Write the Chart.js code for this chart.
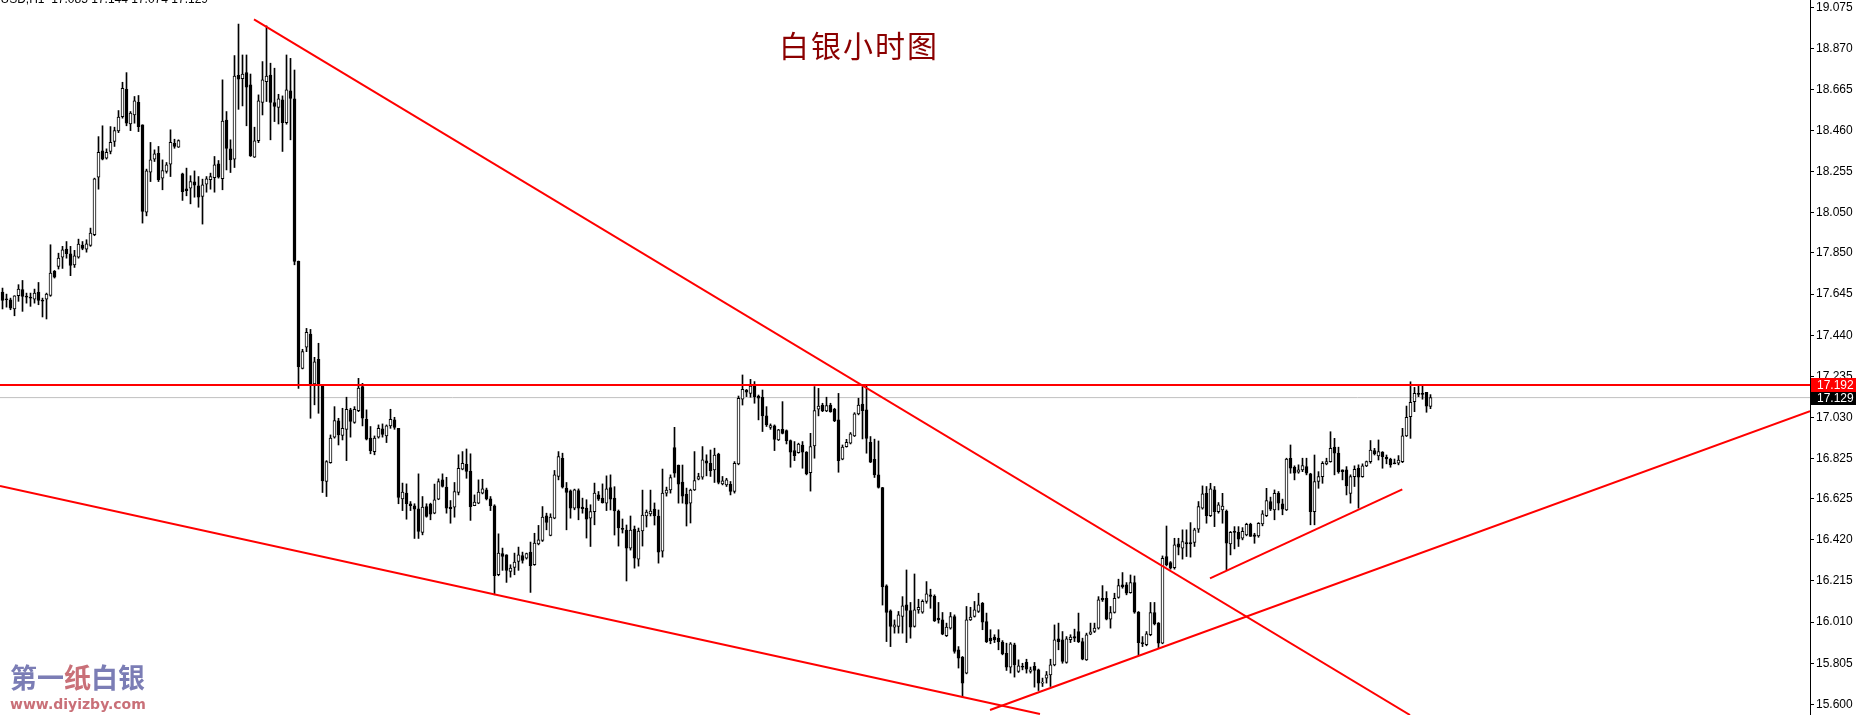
<!DOCTYPE html>
<html>
<head>
<meta charset="utf-8">
<script src="https://cdn.jsdelivr.net/npm/chart.js@4.4.1/dist/chart.umd.min.js"></script>
<style>
html, body { margin: 0; padding: 0; background: #fff; }
#wrap { position: relative; width: 1856px; height: 715px; overflow: hidden; }
#wrap canvas { position: absolute; left: 0; top: 0; width: 1856px; height: 715px; }
.txt { position: absolute; white-space: pre; }
#hdr { right: 1648px; top: -7px; font: 12px/12px "Liberation Sans", sans-serif; color: #000; }
#title { left: 779px; top: 29px; font: 30px/30px "Noto Sans CJK SC", sans-serif; color: #8b0000; letter-spacing: 2px; }
#logo { left: 10px; top: 663px; font: bold 27px/27px "Noto Sans CJK SC", sans-serif; color: #7b7db5; }
#logo .r { color: #c97078; }
#url { left: 10px; top: 697px; font: bold 14px/14px "DejaVu Sans", sans-serif; color: #c97078; }
</style>
</head>
<body>
<div id="wrap">
  <canvas id="chart" width="1856" height="715"></canvas>
  <div class="txt" id="hdr">XAGUSD,H1  17.085 17.144 17.074 17.129</div>
  <div class="txt" id="title">白银小时图</div>
  <div class="txt" id="logo">第一<span class="r">纸</span>白银</div>
  <div class="txt" id="url">www.diyizby.com</div>
</div>
<script>
// XAGUSD H1 candles, oldest first
const open = [
  17.655, 17.620, 17.617, 17.571, 17.637, 17.667, 17.633, 17.628, 17.620, 17.655,
  17.614, 17.620, 17.639, 17.758, 17.783, 17.829, 17.869, 17.846, 17.791, 17.829,
  17.889, 17.869, 17.888, 17.941, 18.228, 18.359, 18.322, 18.356, 18.406, 18.459,
  18.530, 18.666, 18.493, 18.538, 18.601, 18.489, 18.054, 18.253, 18.318, 18.347,
  18.223, 18.256, 18.293, 18.397, 18.377, 18.244, 18.170, 18.173, 18.205, 18.185,
  18.132, 18.193, 18.215, 18.226, 18.294, 18.221, 18.513, 18.369, 18.318, 18.736,
  18.719, 18.749, 18.688, 18.327, 18.410, 18.601, 18.704, 18.737, 18.600, 18.576,
  18.613, 18.500, 18.658, 18.618, 17.808, 17.275, 17.380, 17.446, 17.197, 17.320,
  17.187, 16.711, 16.805, 16.932, 17.013, 16.940, 16.971, 17.068, 17.006, 17.064,
  17.184, 17.021, 16.927, 16.860, 16.932, 16.973, 16.938, 16.988, 17.018, 16.976,
  16.624, 16.653, 16.600, 16.590, 16.575, 16.457, 16.586, 16.598, 16.553, 16.623,
  16.719, 16.683, 16.583, 16.583, 16.656, 16.772, 16.797, 16.761, 16.591, 16.603,
  16.653, 16.669, 16.624, 16.590, 16.246, 16.351, 16.346, 16.263, 16.283, 16.312,
  16.342, 16.329, 16.359, 16.296, 16.400, 16.417, 16.540, 16.442, 16.528, 16.736,
  16.827, 16.678, 16.664, 16.578, 16.666, 16.583, 16.578, 16.528, 16.561, 16.644,
  16.628, 16.603, 16.681, 16.628, 16.564, 16.475, 16.469, 16.379, 16.474, 16.324,
  16.464, 16.539, 16.549, 16.574, 16.539, 16.364, 16.653, 16.669, 16.880, 16.793,
  16.708, 16.648, 16.603, 16.669, 16.722, 16.732, 16.814, 16.802, 16.769, 16.848,
  16.699, 16.694, 16.697, 16.661, 16.799, 17.121, 17.167, 17.150, 17.192, 17.137,
  17.131, 17.038, 16.981, 16.988, 16.918, 16.971, 16.965, 16.915, 16.865, 16.855,
  16.893, 16.857, 16.755, 16.888, 17.071, 17.092, 17.063, 17.092, 17.071, 17.018,
  16.822, 16.885, 16.902, 16.938, 17.048, 17.097, 17.068, 16.906, 16.822, 16.744,
  16.680, 16.191, 16.066, 15.985, 15.988, 16.038, 16.096, 16.068, 15.988, 16.071,
  16.059, 16.113, 16.146, 16.138, 16.030, 16.021, 15.943, 15.980, 16.038, 15.872,
  15.835, 15.756, 16.021, 16.038, 16.063, 16.104, 16.013, 15.930, 15.935, 15.930,
  15.910, 15.855, 15.786, 15.897, 15.764, 15.787, 15.809, 15.764, 15.789, 15.772,
  15.706, 15.731, 15.747, 15.797, 15.927, 15.922, 15.809, 15.922, 15.938, 15.963,
  15.913, 15.822, 15.950, 15.963, 15.980, 16.129, 16.129, 16.025, 16.058, 16.133,
  16.196, 16.196, 16.157, 16.207, 16.059, 15.908, 15.897, 15.947, 16.058, 16.005,
  15.905, 16.337, 16.307, 16.282, 16.400, 16.378, 16.407, 16.407, 16.407, 16.473,
  16.578, 16.652, 16.541, 16.669, 16.561, 16.569, 16.564, 16.400, 16.462, 16.457,
  16.428, 16.445, 16.498, 16.445, 16.440, 16.500, 16.541, 16.611, 16.569, 16.652,
  16.599, 16.569, 16.827, 16.782, 16.757, 16.769, 16.785, 16.749, 16.561, 16.711,
  16.735, 16.799, 16.810, 16.882, 16.852, 16.769, 16.769, 16.652, 16.735, 16.777,
  16.735, 16.789, 16.810, 16.865, 16.838, 16.857, 16.832, 16.822, 16.802, 16.802,
  16.810, 16.938, 17.034, 17.109, 17.150, 17.150, 17.155, 17.085
];
const high = [
  17.675, 17.645, 17.625, 17.637, 17.692, 17.713, 17.650, 17.650, 17.670, 17.703,
  17.625, 17.650, 17.891, 17.763, 17.849, 17.883, 17.907, 17.883, 17.863, 17.919,
  17.907, 17.916, 17.974, 18.223, 18.430, 18.484, 18.369, 18.480, 18.477, 18.560,
  18.701, 18.749, 18.555, 18.630, 18.635, 18.489, 18.268, 18.401, 18.364, 18.381,
  18.314, 18.301, 18.464, 18.417, 18.414, 18.248, 18.273, 18.235, 18.259, 18.231,
  18.218, 18.231, 18.248, 18.331, 18.311, 18.713, 18.555, 18.414, 18.834, 18.991,
  18.837, 18.837, 18.742, 18.477, 18.638, 18.804, 18.982, 18.796, 18.771, 18.641,
  18.633, 18.837, 18.820, 18.762, 17.810, 17.370, 17.474, 17.469, 17.330, 17.400,
  17.192, 16.815, 16.943, 17.084, 17.026, 17.076, 17.131, 17.076, 17.084, 17.225,
  17.200, 17.068, 16.985, 16.938, 16.993, 16.998, 16.993, 17.071, 17.031, 16.976,
  16.703, 16.699, 16.611, 16.600, 16.749, 16.636, 16.600, 16.603, 16.698, 16.724,
  16.749, 16.732, 16.616, 16.706, 16.844, 16.860, 16.873, 16.849, 16.644, 16.719,
  16.722, 16.678, 16.636, 16.595, 16.450, 16.379, 16.346, 16.296, 16.354, 16.384,
  16.359, 16.354, 16.409, 16.453, 16.492, 16.586, 16.553, 16.550, 16.766, 16.860,
  16.852, 16.706, 16.669, 16.673, 16.674, 16.628, 16.620, 16.595, 16.703, 16.661,
  16.699, 16.739, 16.744, 16.685, 16.569, 16.524, 16.494, 16.539, 16.489, 16.479,
  16.668, 16.569, 16.668, 16.604, 16.569, 16.773, 16.683, 16.744, 16.981, 16.793,
  16.793, 16.678, 16.673, 16.860, 16.752, 16.885, 16.844, 16.868, 16.877, 16.852,
  16.736, 16.727, 16.711, 16.810, 17.137, 17.242, 17.170, 17.220, 17.209, 17.142,
  17.167, 17.084, 16.998, 16.993, 16.971, 17.109, 16.968, 16.918, 16.910, 16.902,
  16.910, 16.860, 16.951, 17.184, 17.175, 17.101, 17.131, 17.101, 17.076, 17.150,
  16.893, 16.921, 16.955, 17.054, 17.126, 17.184, 17.187, 16.935, 16.922, 16.913,
  16.682, 16.196, 16.071, 16.021, 16.063, 16.137, 16.270, 16.108, 16.250, 16.124,
  16.121, 16.212, 16.174, 16.146, 16.108, 16.058, 16.005, 16.058, 16.046, 15.888,
  15.839, 16.088, 16.084, 16.113, 16.154, 16.108, 16.055, 15.972, 15.947, 15.972,
  15.918, 15.905, 15.908, 15.905, 15.822, 15.805, 15.825, 15.786, 15.809, 15.776,
  15.731, 15.764, 15.825, 15.996, 16.005, 15.963, 15.938, 15.947, 15.975, 16.055,
  15.930, 15.955, 16.005, 16.005, 16.137, 16.192, 16.162, 16.088, 16.154, 16.224,
  16.257, 16.207, 16.245, 16.240, 16.063, 15.938, 15.963, 16.108, 16.108, 16.008,
  16.340, 16.489, 16.312, 16.428, 16.428, 16.470, 16.470, 16.506, 16.478, 16.611,
  16.689, 16.686, 16.702, 16.686, 16.606, 16.652, 16.569, 16.462, 16.486, 16.486,
  16.481, 16.503, 16.503, 16.453, 16.506, 16.566, 16.677, 16.633, 16.669, 16.661,
  16.623, 16.827, 16.893, 16.789, 16.794, 16.827, 16.827, 16.752, 16.843, 16.760,
  16.810, 16.827, 16.959, 16.926, 16.882, 16.769, 16.785, 16.744, 16.789, 16.794,
  16.799, 16.813, 16.915, 16.876, 16.918, 16.860, 16.843, 16.827, 16.823, 16.840,
  16.976, 17.087, 17.208, 17.180, 17.187, 17.187, 17.155, 17.144
];
const low = [
  17.571, 17.580, 17.567, 17.537, 17.609, 17.559, 17.600, 17.584, 17.600, 17.592,
  17.531, 17.521, 17.634, 17.725, 17.770, 17.773, 17.824, 17.737, 17.778, 17.824,
  17.866, 17.854, 17.883, 17.936, 18.168, 18.314, 18.318, 18.344, 18.381, 18.450,
  18.522, 18.484, 18.460, 18.497, 18.455, 17.999, 18.035, 18.206, 18.306, 18.206,
  18.165, 18.248, 18.231, 18.372, 18.376, 18.112, 18.135, 18.095, 18.128, 18.078,
  17.994, 18.153, 18.168, 18.153, 18.223, 18.165, 18.264, 18.251, 18.276, 18.566,
  18.583, 18.484, 18.331, 18.326, 18.400, 18.538, 18.605, 18.414, 18.505, 18.493,
  18.356, 18.492, 18.414, 17.791, 17.175, 17.272, 17.358, 17.026, 17.093, 17.051,
  16.656, 16.636, 16.802, 16.927, 16.893, 16.918, 16.815, 16.932, 17.001, 17.059,
  16.988, 16.918, 16.849, 16.844, 16.927, 16.932, 16.905, 16.976, 16.971, 16.600,
  16.566, 16.523, 16.566, 16.427, 16.427, 16.445, 16.533, 16.520, 16.550, 16.620,
  16.683, 16.553, 16.503, 16.533, 16.644, 16.769, 16.727, 16.517, 16.590, 16.600,
  16.649, 16.619, 16.566, 16.146, 16.241, 16.268, 16.208, 16.234, 16.246, 16.268,
  16.304, 16.324, 16.158, 16.293, 16.395, 16.412, 16.470, 16.440, 16.525, 16.719,
  16.678, 16.470, 16.528, 16.570, 16.520, 16.553, 16.429, 16.387, 16.495, 16.616,
  16.603, 16.566, 16.569, 16.444, 16.389, 16.454, 16.215, 16.369, 16.279, 16.289,
  16.389, 16.484, 16.539, 16.494, 16.304, 16.334, 16.638, 16.653, 16.732, 16.603,
  16.603, 16.489, 16.504, 16.666, 16.719, 16.722, 16.739, 16.736, 16.706, 16.699,
  16.694, 16.686, 16.644, 16.653, 16.794, 17.092, 17.134, 17.131, 17.101, 17.018,
  16.960, 16.985, 16.971, 16.865, 16.915, 16.948, 16.898, 16.782, 16.815, 16.852,
  16.777, 16.744, 16.663, 16.827, 17.038, 17.059, 17.059, 17.056, 17.009, 16.757,
  16.819, 16.882, 16.898, 16.935, 17.043, 16.923, 16.852, 16.805, 16.731, 16.678,
  16.095, 15.913, 15.888, 15.955, 15.955, 15.955, 15.908, 15.930, 15.985, 16.054,
  16.054, 16.104, 16.079, 16.013, 16.005, 15.947, 15.938, 15.975, 15.855, 15.781,
  15.636, 15.752, 16.018, 16.035, 16.058, 15.972, 15.908, 15.902, 15.908, 15.872,
  15.847, 15.769, 15.756, 15.736, 15.759, 15.772, 15.756, 15.756, 15.686, 15.669,
  15.689, 15.706, 15.689, 15.792, 15.872, 15.805, 15.805, 15.908, 15.913, 15.908,
  15.822, 15.819, 15.947, 15.958, 15.975, 16.113, 16.021, 15.980, 16.055, 16.129,
  16.179, 16.146, 16.154, 16.054, 15.847, 15.888, 15.892, 15.942, 15.996, 15.880,
  15.902, 16.290, 16.274, 16.274, 16.345, 16.324, 16.337, 16.334, 16.387, 16.457,
  16.573, 16.503, 16.536, 16.486, 16.553, 16.503, 16.271, 16.345, 16.375, 16.387,
  16.420, 16.440, 16.437, 16.403, 16.433, 16.490, 16.536, 16.566, 16.520, 16.569,
  16.545, 16.566, 16.752, 16.719, 16.752, 16.760, 16.744, 16.495, 16.495, 16.677,
  16.702, 16.794, 16.807, 16.744, 16.752, 16.719, 16.644, 16.603, 16.686, 16.578,
  16.732, 16.785, 16.802, 16.843, 16.818, 16.777, 16.799, 16.782, 16.799, 16.794,
  16.805, 16.935, 16.926, 17.059, 17.134, 17.121, 17.056, 17.074
];
const close = [
  17.614, 17.617, 17.575, 17.637, 17.670, 17.634, 17.630, 17.625, 17.650, 17.614,
  17.610, 17.645, 17.750, 17.730, 17.825, 17.866, 17.846, 17.788, 17.836, 17.894,
  17.873, 17.896, 17.949, 18.220, 18.352, 18.318, 18.352, 18.402, 18.460, 18.527,
  18.671, 18.497, 18.547, 18.608, 18.480, 18.057, 18.259, 18.314, 18.344, 18.215,
  18.261, 18.289, 18.402, 18.381, 18.410, 18.156, 18.161, 18.206, 18.188, 18.128,
  18.190, 18.220, 18.231, 18.289, 18.228, 18.508, 18.371, 18.314, 18.732, 18.716,
  18.742, 18.676, 18.334, 18.409, 18.608, 18.713, 18.732, 18.601, 18.580, 18.618,
  18.500, 18.663, 18.621, 17.808, 17.283, 17.358, 17.455, 17.192, 17.308, 17.197,
  16.714, 16.810, 16.927, 17.015, 16.943, 16.976, 17.071, 17.010, 17.071, 17.176,
  17.026, 16.922, 16.865, 16.927, 16.976, 16.946, 16.988, 17.021, 16.980, 16.631,
  16.658, 16.600, 16.591, 16.573, 16.462, 16.583, 16.537, 16.548, 16.620, 16.711,
  16.686, 16.578, 16.575, 16.661, 16.777, 16.802, 16.761, 16.586, 16.608, 16.658,
  16.674, 16.624, 16.591, 16.241, 16.354, 16.337, 16.268, 16.279, 16.309, 16.346,
  16.317, 16.351, 16.291, 16.404, 16.420, 16.533, 16.507, 16.533, 16.744, 16.835,
  16.683, 16.656, 16.578, 16.669, 16.578, 16.575, 16.523, 16.561, 16.653, 16.623,
  16.606, 16.674, 16.623, 16.564, 16.479, 16.472, 16.379, 16.469, 16.329, 16.464,
  16.544, 16.559, 16.564, 16.539, 16.359, 16.653, 16.668, 16.730, 16.752, 16.698,
  16.638, 16.598, 16.668, 16.716, 16.736, 16.819, 16.802, 16.765, 16.843, 16.706,
  16.714, 16.719, 16.661, 16.802, 17.126, 17.170, 17.156, 17.187, 17.134, 17.126,
  17.038, 16.993, 16.990, 16.921, 16.968, 16.951, 16.915, 16.857, 16.840, 16.897,
  16.857, 16.749, 16.885, 17.064, 17.087, 17.063, 17.089, 17.059, 17.014, 16.815,
  16.882, 16.906, 16.948, 17.048, 17.092, 17.064, 16.926, 16.807, 16.744, 16.681,
  16.186, 16.058, 15.988, 15.996, 16.046, 16.091, 16.068, 15.985, 16.071, 16.084,
  16.113, 16.151, 16.138, 16.016, 16.021, 15.950, 15.985, 16.038, 15.864, 15.830,
  15.706, 16.021, 16.035, 16.071, 16.096, 16.010, 15.913, 15.918, 15.922, 15.913,
  15.852, 15.786, 15.902, 15.797, 15.792, 15.785, 15.776, 15.772, 15.769, 15.706,
  15.709, 15.747, 15.797, 15.922, 15.913, 15.814, 15.927, 15.935, 15.930, 15.913,
  15.825, 15.947, 15.962, 15.980, 16.121, 16.121, 16.025, 16.058, 16.129, 16.192,
  16.187, 16.154, 16.207, 16.059, 15.908, 15.902, 15.952, 16.058, 16.001, 15.905,
  16.328, 16.295, 16.279, 16.395, 16.383, 16.412, 16.400, 16.400, 16.470, 16.586,
  16.649, 16.540, 16.674, 16.561, 16.594, 16.589, 16.403, 16.458, 16.457, 16.423,
  16.462, 16.498, 16.437, 16.437, 16.503, 16.550, 16.616, 16.573, 16.652, 16.603,
  16.573, 16.823, 16.777, 16.752, 16.769, 16.790, 16.752, 16.561, 16.711, 16.735,
  16.802, 16.810, 16.876, 16.852, 16.760, 16.760, 16.689, 16.735, 16.772, 16.732,
  16.789, 16.810, 16.868, 16.848, 16.860, 16.835, 16.823, 16.794, 16.799, 16.818,
  16.938, 17.031, 17.106, 17.150, 17.145, 17.145, 17.087, 17.129
];

// price axis labels as printed by the terminal
const yTicks = [15.600, 15.805, 16.010, 16.215, 16.420, 16.625, 16.825, 17.030, 17.235,
                17.440, 17.645, 17.850, 18.050, 18.255, 18.460, 18.665, 18.870, 19.075];
const priceMin = 15.547, priceMax = 19.111;

const resistance = 17.192;   // red horizontal line
const bid = 17.129;          // last price

// hand drawn trend lines: [bar index, price] end points
const downTrend = [[62.875, 19.014], [351.875, 15.547]];
const lowerSupport = [[-0.625, 16.688], [259.375, 15.552]];
const upTrend = [[246.875, 15.572], [451.875, 17.062]];
const shortTrend = [[301.875, 16.228], [349.95, 16.672]];

const xMin = -0.625, xMax = 451.875;

const pts = arr => arr.map(p => ({ x: p[0], y: p[1] }));
const lineDs = (data, color, width, order) => ({
  type: "line", data: data, borderColor: color, borderWidth: width,
  pointRadius: 0, fill: false, order: order, tension: 0
});

const priceBoxes = {
  id: "priceBoxes",
  afterDraw(chart) {
    const c = chart.ctx, y = chart.scales.y, left = chart.chartArea.right + 1;
    c.save();
    c.font = "12px 'Liberation Sans'";
    c.textBaseline = "middle";
    [[bid, "#000"], [resistance, "#ff0000"]].forEach(([v, col]) => {
      const py = Math.round(y.getPixelForValue(v));
      c.fillStyle = col;
      c.fillRect(left, py - 7, chart.width - left, 14);
      c.fillStyle = "#fff";
      c.fillText(v.toFixed(3), chart.chartArea.right + 7, py + 0.5);
    });
    c.restore();
  }
};

new Chart(document.getElementById("chart"), {
  data: {
    datasets: [
      lineDs(pts([[xMin, bid], [xMax, bid]]), "#c0c0c0", 1, 5),
      {
        type: "bar", order: 2, grouped: false,
        data: open.map((o, i) => ({ x: i, y: [low[i], high[i]] })),
        backgroundColor: "#000", borderWidth: 0, barThickness: 1, minBarLength: 1
      },
      {
        type: "bar", order: 1, grouped: false,
        data: open.map((o, i) => ({ x: i, y: [o, close[i]] })),
        backgroundColor: open.map((o, i) => close[i] >= o ? "#fff" : "#000"),
        borderColor: "#000", borderWidth: 1, borderSkipped: false,
        barThickness: 3, minBarLength: 1
      },
      lineDs(pts([[xMin, resistance], [xMax, resistance]]), "#ff0000", 2, 0),
      lineDs(pts(downTrend), "#ff0000", 2, 0),
      lineDs(pts(lowerSupport), "#ff0000", 2, 0),
      lineDs(pts(upTrend), "#ff0000", 2, 0),
      lineDs(pts(shortTrend), "#ff0000", 2, 0)
    ]
  },
  options: {
    responsive: false,
    animation: false,
    devicePixelRatio: 1,
    layout: { padding: 0 },
    plugins: { legend: { display: false }, tooltip: { enabled: false } },
    scales: {
      x: { type: "linear", display: false, min: xMin, max: xMax, offset: false },
      y: {
        type: "linear", position: "right", min: priceMin, max: priceMax,
        afterBuildTicks: s => { s.ticks = yTicks.map(v => ({ value: v })); },
        afterFit: s => { s.width = 46; s.paddingTop = 0; s.paddingBottom = 0; },
        ticks: {
          autoSkip: false, padding: 2, color: "#000",
          font: { family: "Liberation Sans", size: 12 },
          callback: v => Number(v).toFixed(3)
        },
        grid: { drawOnChartArea: false, drawTicks: true, tickLength: 4, color: "#000" },
        border: { display: true, color: "#000", width: 1 }
      }
    }
  },
  plugins: [priceBoxes]
});
</script>
</body>
</html>
